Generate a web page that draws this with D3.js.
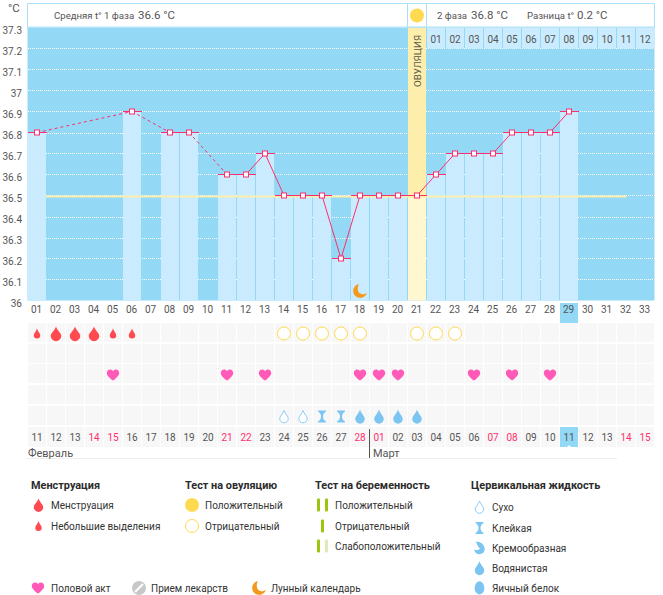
<!DOCTYPE html>
<html lang="ru">
<head>
<meta charset="utf-8">
<script src="https://cdn.jsdelivr.net/npm/d3@7/dist/d3.min.js"></script>
<style>
  html, body { margin: 0; padding: 0; background: #fff; }
  svg { display: block; }
  text { font-family: Roboto, "Noto Sans", sans-serif; fill: #555; }
  .axis path.domain { display: none; }
  .axis text { font-size: 10px; font-family: Roboto, "Noto Sans", sans-serif; fill: #555; }
  .legend-title { font-size: 10.9px; font-weight: 700; fill: #2b2b2b; }
  .legend-item { font-size: 10px; fill: #333; }
</style>
</head>
<body>
<svg id="chart" width="663" height="595"></svg>
<script>
// Cycle days and measured basal temperature (null = not measured)
const cycleDays = d3.range(1, 34);
const temperatures = [36.8, null, null, null, null, 36.9, null, 36.8, 36.8, null,
  36.6, 36.6, 36.7, 36.5, 36.5, 36.5, 36.2, 36.5, 36.5, 36.5, 36.5,
  36.6, 36.7, 36.7, 36.7, 36.8, 36.8, 36.8, 36.9,
  null, null, null, null];
const tempTicks = [36, 36.1, 36.2, 36.3, 36.4, 36.5, 36.6, 36.7, 36.8, 36.9, 37, 37.1, 37.2, 37.3];
const calendarDates = ["11","12","13","14","15","16","17","18","19","20","21","22","23","24","25","26","27","28",
  "01","02","03","04","05","06","07","08","09","10","11","12","13","14","15"];
const weekendDays = [4, 5, 11, 12, 18, 19, 25, 26, 32, 33];
const secondPhaseLabels = ["01","02","03","04","05","06","07","08","09","10","11","12"];

// Observation rows
const ovulationDay = 21;
const coverlineTemp = 36.5;
const todayCycleDay = 29;
const heavyFlowDays = [2, 3, 4];
const lightFlowDays = [1, 5, 6];
const negativeOvulationTests = [14, 15, 16, 17, 18, 21, 22, 23];
const intercourseDays = [5, 11, 13, 18, 19, 20, 24, 26, 28];
const dryDays = [14, 15];
const stickyDays = [16, 17];
const wateryDays = [18, 19, 20, 21];
const moonDays = [18];

// Summary and legend wording
const headerTexts = [
  { t: "Средняя t° 1 фаза", x: 54, s: 9.6 }, { t: "36.6 °C", x: 138, s: 11.5 },
  { t: "2 фаза", x: 437, s: 9.6 }, { t: "36.8 °C", x: 471, s: 11.5 },
  { t: "Разница t°", x: 527, s: 9.6 }, { t: "0.2 °C", x: 577, s: 11.5 }
];

const COLORS = {
  sky: "#93d8f5", pale: "#cbecfe", border: "#a9e0f8", pink: "#ff2f6d",
  ovulationTop: "#fdeeab", ovulationLow: "#fef7cf", sun: "#ffda50",
  blood: "#ff4a50", heart: "#ff5ab7", drop: "#7cc5f3", dropLine: "#8ccdf7",
  moon: "#f39a1c", test: "#9cc50d", testWeak: "#dfeab8", pill: "#c8c8c8", cell: "#f8f8f8"
};

const svg = d3.select("#chart");
const x = d3.scaleBand().domain(cycleDays).range([27, 654]);
const y = d3.scaleLinear().domain([36, 37.3]).range([300.5, 27.5]);
const cx = d => x(d) + 10;

// Faint woven texture used on the bars and the observation cells
const defs = svg.append("defs");
const weave = (id, base, dot) => {
  const p = defs.append("pattern").attr("id", id).attr("width", 4).attr("height", 4)
    .attr("patternUnits", "userSpaceOnUse");
  p.append("rect").attr("width", 4).attr("height", 4).attr("fill", base);
  p.append("rect").attr("x", 0).attr("y", 0).attr("width", 1).attr("height", 1).attr("fill", dot);
  p.append("rect").attr("x", 2).attr("y", 2).attr("width", 1).attr("height", 1).attr("fill", dot);
};
weave("weaveBar", COLORS.pale, "#c5e9fc");
weave("weaveCell", COLORS.cell, "#f3f3f3");

// Icon shapes, centred on the origin
const dropPath = (w, h) => `M0,${-h / 2}C${w * 0.12},${-h * 0.22} ${w / 2},${-h * 0.02} ${w / 2},${h * 0.17}` +
  `A${w / 2},${w / 2} 0 1 1 ${-w / 2},${h * 0.17}C${-w / 2},${-h * 0.02} ${-w * 0.12},${-h * 0.22} 0,${-h / 2}Z`;
const heartPath = "M0,5.6C-2.2,3.9 -6.2,1.2 -6.2,-2C-6.2,-4 -4.7,-5.4 -3,-5.4C-1.7,-5.4 -0.6,-4.7 0,-3.7" +
  "C0.6,-4.7 1.7,-5.4 3,-5.4C4.7,-5.4 6.2,-4 6.2,-2C6.2,1.2 2.2,3.9 0,5.6Z";
const moonPath = "M-1,-7A7,7 0 1 0 7,1.5C5.6,3.2 2.6,3.9 0.2,2.6C-2.6,1.1 -3,-4 -1,-7Z";
const stickyPath = "M-4,-6H4V-5C2,-4 1,-2 1,0C1,2 2,4 4,5V6H-4V5C-2,4 -1,2 -1,0C-1,-2 -2,-4 -4,-5Z";
const creamyPath = "M-3.5,-6.5C1,-6.5 5.2,-3.4 5.2,1C5.2,4 3,6.2 0,6.2C-3,6.2 -5.2,4 -5.2,1.2C-3.6,2.6 -0.6,2.2 0.4,0.4C-1.2,-1 -2.8,-3.6 -3.5,-6.5Z";
const eggPath = "M0,-6.8C3,-6.8 4.8,-3 4.8,0.6C4.8,3.8 2.8,6.4 0,6.4C-2.8,6.4 -4.8,3.8 -4.8,0.6C-4.8,-3 -3,-6.8 0,-6.8Z";

const icon = (g, d, px, py, fill, stroke) => g.append("path")
  .attr("d", d).attr("transform", `translate(${px},${py})`)
  .attr("fill", fill).attr("stroke", stroke || "none");

// Plot background and temperature grid
svg.append("rect").attr("x", 27.5).attr("y", 27.5).attr("width", 627).attr("height", 273).attr("fill", COLORS.sky);
svg.append("g").selectAll("line").data(tempTicks.filter(t => t < 37.3)).join("line")
  .attr("x1", 28).attr("x2", 654).attr("y1", d => Math.round(y(d)) + 0.5).attr("y2", d => Math.round(y(d)) + 0.5)
  .attr("stroke", "#fff").attr("stroke-dasharray", "1,1");

// One pale column per measured day, from the reading down to the axis
const readings = cycleDays.map((d, i) => ({ day: d, temp: temperatures[i] })).filter(r => r.temp !== null);
svg.append("g").selectAll("rect").data(readings).join("rect")
  .attr("x", d => x(d.day) + 1).attr("width", 18)
  .attr("y", d => y(d.temp)).attr("height", d => y(36) - y(d.temp))
  .attr("fill", d => d.day === ovulationDay ? COLORS.ovulationLow : "url(#weaveBar)");

// Ovulation column above its reading
svg.append("rect").attr("x", x(ovulationDay) + 1).attr("width", 18).attr("y", y(37.3))
  .attr("height", y(coverlineTemp) - y(37.3)).attr("fill", COLORS.ovulationTop);
svg.append("text").attr("transform", `translate(${cx(ovulationDay) + 3.5},87) rotate(-90)`)
  .attr("font-size", 9.8).style("fill", "#5a5a4a").text("ОВУЛЯЦИЯ");

// Second-phase day counters along the top
const phaseStart = ovulationDay + 1;
const phaseCells = svg.append("g").selectAll("g").data(secondPhaseLabels).join("g")
  .attr("transform", (d, i) => `translate(${x(phaseStart + i) + 1},27.5)`);
phaseCells.append("rect").attr("width", 18).attr("height", 21).attr("fill", COLORS.pale);
phaseCells.append("text").attr("x", 9).attr("y", 15).attr("text-anchor", "middle")
  .attr("font-size", 10).text(d => d);

// Summary strip
svg.append("rect").attr("x", 27.5).attr("y", 3.5).attr("width", 627).attr("height", 23.5)
  .attr("fill", "#fff").attr("stroke", COLORS.border);
svg.append("rect").attr("x", x(ovulationDay) + 0.5).attr("y", 3.5).attr("width", 19).attr("height", 23.5)
  .attr("fill", "#fff").attr("stroke", COLORS.border);
svg.append("circle").attr("cx", cx(ovulationDay)).attr("cy", 15.5).attr("r", 7).attr("fill", COLORS.sun);
svg.append("g").selectAll("text").data(headerTexts).join("text")
  .attr("x", d => d.x).attr("y", 19).attr("font-size", d => d.s).text(d => d.t);

// Coverline
svg.append("line").attr("x1", x(2)).attr("x2", cx(32) + 0.5)
  .attr("y1", y(coverlineTemp) + 1).attr("y2", y(coverlineTemp) + 1)
  .attr("stroke", COLORS.ovulationTop).attr("stroke-width", 2);

// Temperature trace: caps, segments (dashed across gaps), then point markers
svg.append("g").selectAll("line").data(readings).join("line")
  .attr("x1", d => x(d.day) + 1).attr("x2", d => x(d.day) + 20)
  .attr("y1", d => y(d.temp)).attr("y2", d => y(d.temp))
  .attr("stroke", COLORS.pink);
const segments = d3.pairs(readings);
const traceLine = d3.line().x(d => cx(d.day)).y(d => y(d.temp));
svg.append("g").selectAll("path").data(segments).join("path")
  .attr("d", d => traceLine(d)).attr("fill", "none").attr("stroke", COLORS.pink)
  .attr("stroke-dasharray", d => d[1].day - d[0].day > 1 ? "3,3" : null);
svg.append("g").selectAll("rect").data(readings).join("rect")
  .attr("x", d => cx(d.day) - 2.5).attr("y", d => y(d.temp) - 2.5)
  .attr("width", 5).attr("height", 5).attr("fill", "#fff")
  .attr("stroke", COLORS.pink);

moonDays.forEach(d => icon(svg, moonPath, cx(d), 291, COLORS.moon));

// Axes
svg.append("g").attr("class", "axis")
  .call(d3.axisLeft(y).tickValues(tempTicks).tickSize(0).tickPadding(0).tickFormat(d => String(d)))
  .call(g => g.selectAll("text").attr("x", 22).attr("dy", "0.55em").style("font-size", "10px"));
svg.append("text").attr("x", 8).attr("y", 12).attr("font-size", 11.5).text("°C");

svg.append("rect").attr("x", x(todayCycleDay) + 1).attr("y", 303).attr("width", 18).attr("height", 20).attr("fill", COLORS.sky);
svg.append("g").attr("class", "axis").attr("transform", "translate(0,302)")
  .call(d3.axisBottom(x).tickSize(0).tickPadding(4).tickFormat(d => String(d).padStart(2, "0")));

// Observation grid
const rowTops = [323, 344, 364, 385, 406];
const rowMid = i => rowTops[i] + 10.5;
const cells = rowTops.flatMap(top => cycleDays.map(d => ({ top, d })));
svg.append("g").selectAll("rect").data(cells).join("rect")
  .attr("x", c => x(c.d) + 1).attr("y", c => c.top).attr("width", 18).attr("height", 19)
  .attr("fill", "url(#weaveCell)");
svg.append("g").selectAll("rect").data(cycleDays).join("rect")
  .attr("x", d => x(d) + 1).attr("y", 427).attr("width", 18).attr("height", 20)
  .attr("fill", d => d === todayCycleDay ? COLORS.sky : "url(#weaveCell)");

heavyFlowDays.forEach(d => icon(svg, dropPath(10.5, 14), cx(d), rowMid(0), COLORS.blood));
lightFlowDays.forEach(d => icon(svg, dropPath(6.5, 10), cx(d), rowMid(0), COLORS.blood));
svg.append("g").selectAll("circle").data(negativeOvulationTests).join("circle")
  .attr("cx", cx).attr("cy", rowMid(0)).attr("r", 6.5).attr("fill", "#fff").attr("stroke", COLORS.sun);
intercourseDays.forEach(d => icon(svg, heartPath, cx(d), rowMid(2) + 0.5, COLORS.heart));
dryDays.forEach(d => icon(svg, dropPath(8.5, 12), cx(d), rowMid(4), "#fff", COLORS.dropLine));
stickyDays.forEach(d => icon(svg, stickyPath, cx(d), rowMid(4), COLORS.drop));
wateryDays.forEach(d => icon(svg, dropPath(9.5, 14), cx(d), rowMid(4), COLORS.drop));

// Calendar dates and month labels
svg.append("g").selectAll("text").data(calendarDates).join("text")
  .attr("x", (d, i) => cx(i + 1)).attr("y", 441).attr("text-anchor", "middle").attr("font-size", 10)
  .text(d => d)
  .style("fill", (d, i) => weekendDays.includes(i + 1) ? COLORS.pink : "#555");
svg.append("path").attr("d", `M${cx(todayCycleDay) - 2},447L${cx(todayCycleDay)},445L${cx(todayCycleDay) + 2},447Z`).attr("fill", "#fff");
svg.append("line").attr("x1", 26).attr("x2", 617).attr("y1", 458.5).attr("y2", 458.5).attr("stroke", "#eee");
svg.append("line").attr("x1", 369.5).attr("x2", 369.5).attr("y1", 429).attr("y2", 458).attr("stroke", "#555");
svg.append("text").attr("x", 28).attr("y", 457).attr("font-size", 11).text("Февраль");
svg.append("text").attr("x", 373).attr("y", 457).attr("font-size", 11).text("Март");

// Legend
const legend = svg.append("g");
const title = (t, px) => legend.append("text").attr("class", "legend-title").attr("x", px).attr("y", 489).text(t);
const item = (t, px, py) => legend.append("text").attr("class", "legend-item").attr("x", px).attr("y", py + 4).text(t);
const testBar = (px, py, color) => legend.append("rect").attr("x", px - 1.5).attr("y", py - 6.5)
  .attr("width", 3).attr("height", 13).attr("rx", 1).attr("fill", color);

title("Менструация", 31);
icon(legend, dropPath(9.5, 13), 38.5, 505, COLORS.blood); item("Менструация", 51, 505);
icon(legend, dropPath(6.5, 10), 38.5, 526, COLORS.blood); item("Небольшие выделения", 51, 526);

title("Тест на овуляцию", 185);
legend.append("circle").attr("cx", 192).attr("cy", 505).attr("r", 7).attr("fill", COLORS.sun);
item("Положительный", 205, 505);
legend.append("circle").attr("cx", 192).attr("cy", 526).attr("r", 6.5).attr("fill", "#fff").attr("stroke", COLORS.sun);
item("Отрицательный", 205, 526);

title("Тест на беременность", 315);
testBar(318.5, 505, COLORS.test); testBar(326.5, 505, COLORS.test); item("Положительный", 335, 505);
testBar(322.5, 526, COLORS.test); item("Отрицательный", 335, 526);
testBar(318.5, 546, COLORS.test); testBar(326.5, 546, COLORS.testWeak); item("Слабоположительный", 335, 546);

title("Цервикальная жидкость", 471);
icon(legend, dropPath(8.5, 12), 479.5, 507, "#fff", COLORS.dropLine); item("Сухо", 492, 507);
icon(legend, stickyPath, 479.5, 528, COLORS.drop); item("Клейкая", 492, 528);
icon(legend, creamyPath, 479.5, 548, COLORS.drop); item("Кремообразная", 492, 548);
icon(legend, dropPath(9.5, 14), 479.5, 568, COLORS.drop); item("Водянистая", 492, 568);
icon(legend, eggPath, 479.5, 588, COLORS.drop); item("Яичный белок", 492, 588);

icon(legend, heartPath, 38, 588, COLORS.heart); item("Половой акт", 51, 588);
legend.append("circle").attr("cx", 139).attr("cy", 588).attr("r", 7).attr("fill", COLORS.pill);
legend.append("line").attr("x1", 135).attr("y1", 592).attr("x2", 143).attr("y2", 584).attr("stroke", "#fff").attr("stroke-width", 2);
item("Прием лекарств", 151, 588);
icon(legend, moonPath, 259, 588, COLORS.moon); item("Лунный календарь", 271, 588);
</script>
</body>
</html>
